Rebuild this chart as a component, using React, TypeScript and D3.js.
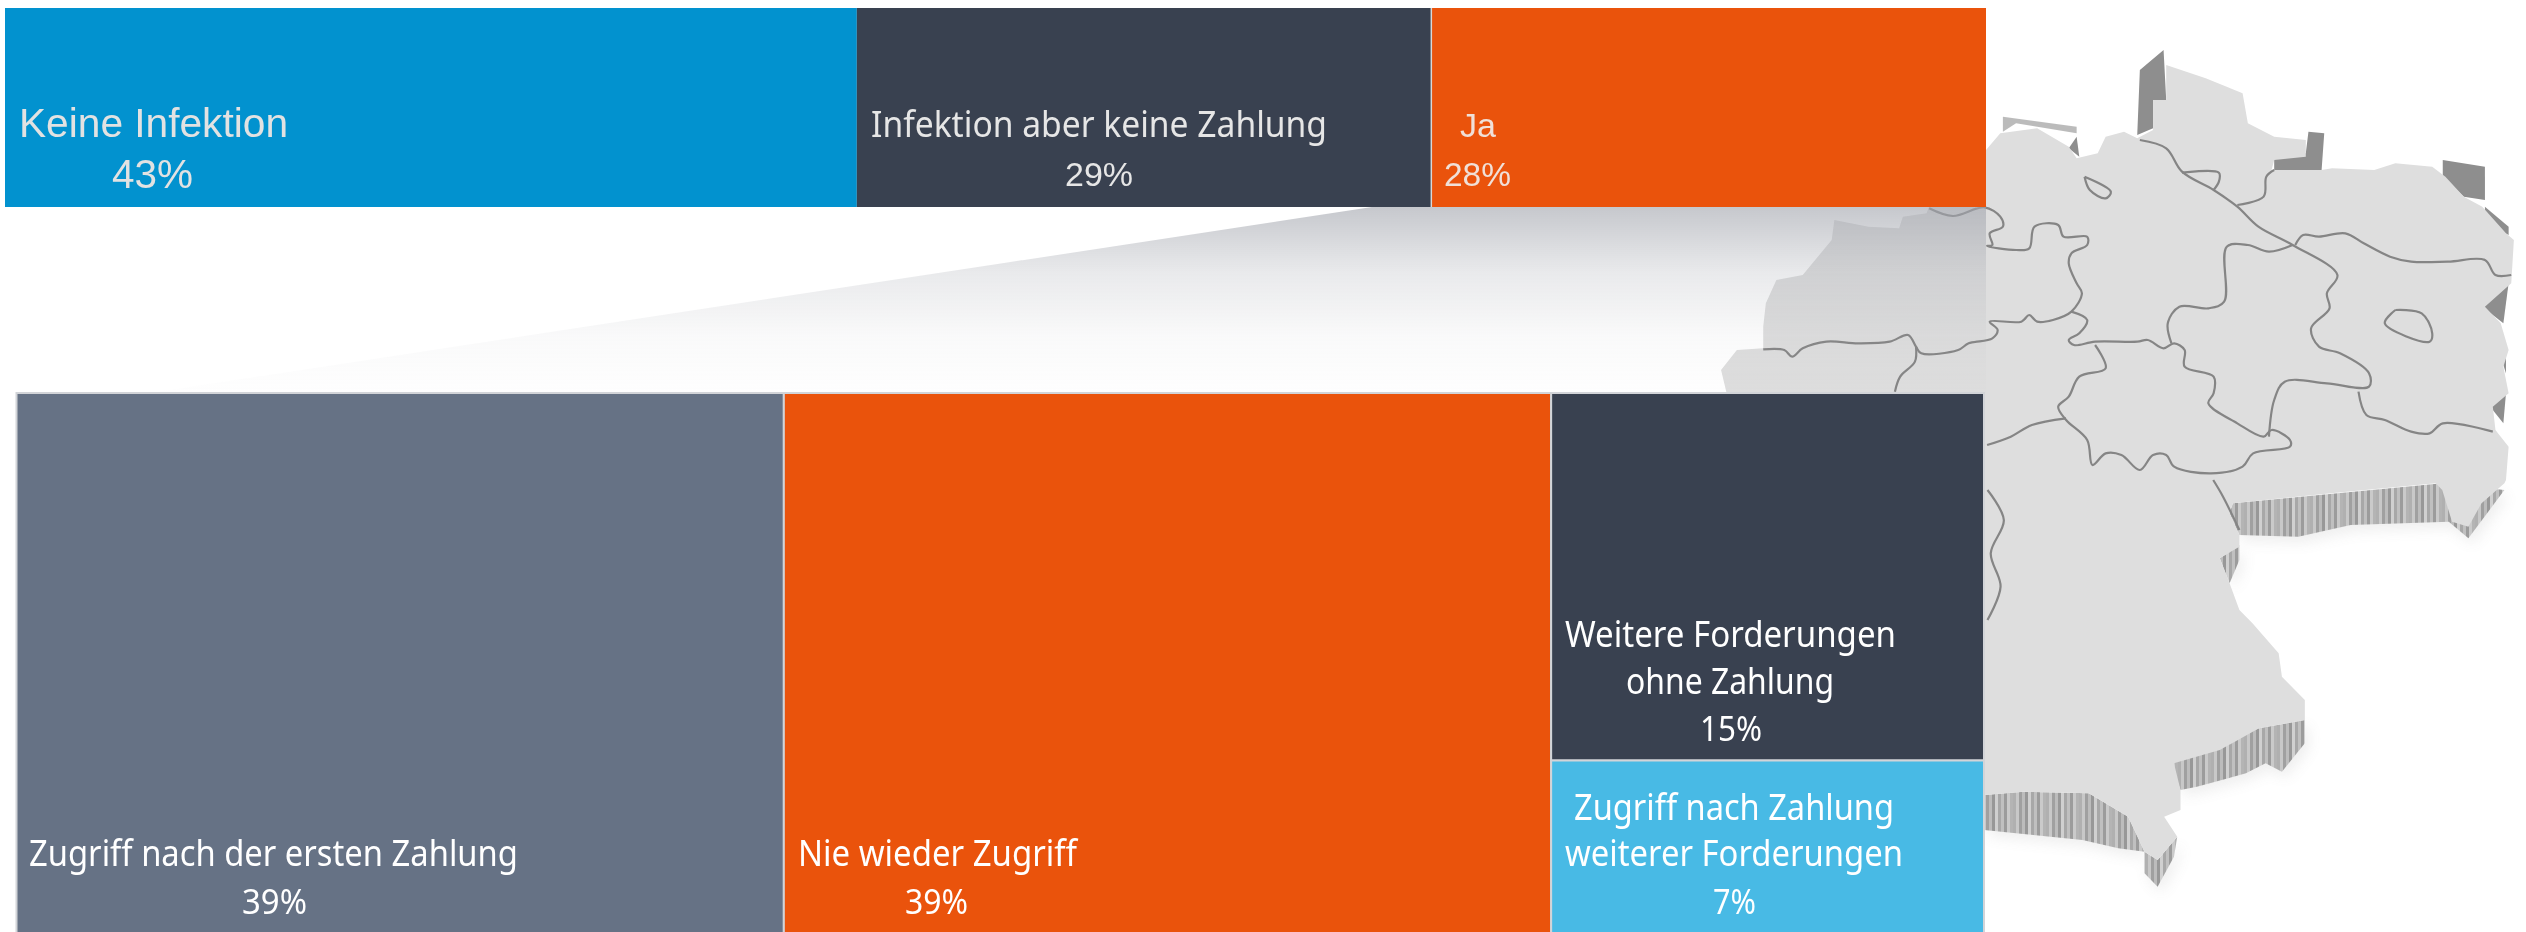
import React from "react";
import * as d3 from "d3";

type P = [number, number];

// ---- data ----
const topCategories = ["Keine Infektion", "Infektion aber keine Zahlung", "Ja"];
const topValues = [43, 29, 28];
const topColors = ["#0292cf", "#394150", "#ea530c"];
const bottomCategories = ["Zugriff nach der ersten Zahlung", "Nie wieder Zugriff"];
const bottomValues = [39, 39];
const bottomColors = ["#667285", "#ea530c"];
const stackCategories = [["Weitere Forderungen", "ohne Zahlung"], ["Zugriff nach Zahlung", "weiterer Forderungen"]];
const stackValues = [15, 7];
const stackColors = ["#394150", "#48bae5"];

// ---- text placement [x0, x1, baseline] ----
const topLabelBox: P[] = [[19, 288], [871, 1327], [1460, 1496]];
const topPctBox: P[] = [[112, 193], [1065, 1133], [1444, 1511]];
const bottomLabelBox: P[] = [[29, 518], [798, 1077]];
const bottomPctBox: P[] = [[242, 307], [905, 968]];
const stackLines = [
  [[1565, 1896, 647], [1626, 1834, 694]],
  [[1574, 1894, 820], [1565, 1903, 866]],
];
const stackPct = [[1700, 1762, 741], [1713, 1756, 914]];

// ---- map drawing, in the space of two crops ----
const outlineA: P[] = [[40,1110],[70,1050],[120,1045],[120,980],[125,910],[145,840],[195,825],[250,720],[255,660],[320,680],[378,685],[385,650],[430,640],[440,600],[543,450],[570,400],[640,385],[700,440],[715,475],[755,460],[770,410],[805,395],[830,415],[860,390],[860,300],[885,300],[885,195],[960,235],[1030,280],[1040,370],[1090,410],[1150,420],[1150,470],[1090,480],[1085,510],[1180,510],[1200,505],[1280,510],[1320,490],[1390,500],[1415,530],[1450,590],[1485,620],[1530,700],[1545,720],[1540,850],[1490,920],[1520,970],[1535,1050],[1525,1100],[1535,1180],[1505,1220],[1510,1290],[1535,1340],[1530,1440]];
const outlineB: P[] = [[1535,10],[1500,70],[1480,140],[1455,125],[1440,30],[1430,10],[1270,40],[1120,70],[1115,100],[1130,165],[1130,200],[1100,235],[1115,310],[1130,390],[1150,430],[1190,520],[1195,590],[1230,660],[1230,720],[1160,745],[1100,810],[1030,850],[1040,930],[1040,990],[1015,1010],[1035,1070],[1005,1140],[985,1115],[960,1010],[900,940],[800,935],[740,945],[500,945],[500,1000]];
const wallsA: P[][] = [
  [[830,405],[835,210],[880,150],[885,300],[860,300],[860,385]],
  [[1090,475],[1150,460],[1155,395],[1185,400],[1180,510],[1170,540],[1090,510]],
  [[1410,480],[1490,500],[1490,600],[1450,590],[1410,530]],
  [[1490,620],[1535,680],[1535,705],[1490,670]],
  [[1485,920],[1535,850],[1525,970]],
  [[1520,1070],[1530,1050],[1530,1120]],
  [[1500,1220],[1530,1180],[1525,1270]],
  [[575,350],[715,380],[715,400],[600,370],[575,395]],
  [[700,445],[720,470],[715,410]],
];
const wallsB: P[][] = [
  [[1115,100],[1130,165],[1220,170],[1300,135],[1450,125],[1480,175],[1535,30],[1440,10],[1120,70]],
  [[1100,235],[1130,195],[1130,240],[1115,310]],
  [[1230,720],[1230,790],[1195,875],[1170,850],[1140,880],[1065,920],[1040,930],[1025,850],[1160,745]],
  [[740,945],[800,935],[900,940],[960,1010],[985,1115],[1005,1140],[1035,1070],[1030,1130],[1005,1220],[985,1180],[985,1115],[945,1105],[890,1080],[740,1050]],
];
const bordersA: P[][] = [
  [[435,625],[480,648],[540,622],[570,650],[575,680],[550,700],[555,735],[545,738],[600,750],[625,745],[635,680],[680,675],[690,710],[735,710],[735,735],[705,760],[700,790],[715,850],[725,880],[705,935],[670,960],[640,965],[625,945],[610,965],[550,965],[565,990],[555,1015],[510,1030],[490,1050],[420,1060],[410,1040],[395,1005],[360,1025],[300,1030],[240,1025],[195,1045],[175,1070],[160,1050],[120,1048]],
  [[705,935],[735,960],[720,1000],[700,1020],[710,1035],[750,1025],[830,1025],[850,1020],[880,1045],[900,1030],[920,1050],[920,1100],[975,1130],[975,1180],[965,1210],[1020,1270],[1070,1310],[1085,1290],[1120,1320],[1120,1340],[1050,1360],[1030,1400],[970,1420],[900,1400],[885,1365],[860,1365],[835,1410],[800,1365],[770,1360],[745,1395],[735,1320],[695,1260],[680,1220],[700,1190],[720,1130],[770,1105],[750,1035]],
  [[410,1040],[408,1085],[380,1130],[370,1175]],
  [[695,1255],[630,1275],[590,1310],[545,1335]],
  [[895,1030],[888,970],[910,920],[965,925],[995,905],[1000,740],[1040,735],[1080,755],[1125,735]],
  [[835,420],[885,445],[915,515],[975,570],[1020,620],[1060,680],[1125,735],[1210,825],[1190,880],[1195,925],[1160,985],[1175,1040],[1215,1060],[1270,1120],[1270,1160],[1190,1150],[1110,1145],[1090,1200],[1080,1310]],
  [[915,518],[985,518],[985,545],[975,570]],
  [[1020,615],[1070,590],[1075,530],[1090,510]],
  [[1130,735],[1145,705],[1175,710],[1225,700],[1260,730],[1310,770],[1350,785],[1420,785],[1490,780],[1510,825],[1540,825]],
  [[1320,930],[1370,940],[1390,1000],[1385,1025],[1300,970],[1320,930]],
  [[1250,1175],[1265,1245],[1300,1260],[1350,1295],[1385,1300],[1410,1270],[1505,1295]],
  [[730,530],[780,575],[770,595],[740,570],[730,530]],
];
const bordersB: P[][] = [
  [[745,30],[770,120],[750,220],[765,320],[745,420]],
  [[1090,0],[1105,50],[1130,150]],
];
const stripeGrays = ["#b0b0b0", "#c8c8c8", "#a0a0a0", "#bcbcbc", "#989898", "#d0d0d0", "#a8a8a8", "#c0c0c0", "#9c9c9c", "#cacaca", "#b4b4b4"];
const wedgeCorners: P[] = [[1372, 207], [1986, 207], [1986, 393], [150, 393]];

// ---- scales ----
const W = 2526, H = 932;
const topY: P = [8, 207];
const lowY: P = [393, 932];
const xTop = d3.scaleLinear().domain([0, d3.sum(topValues)]).range([5, 1986]);
const xLow = d3.scaleLinear().domain([0, d3.sum(bottomValues) + d3.sum(stackValues)]).range([16.5, 1984]);
const yStack = d3.scaleLinear().domain([0, d3.sum(stackValues)]).range(lowY);
const ax = d3.scaleLinear().domain([0, 1568]).range([1700, 2526]);
const ay = d3.scaleLinear().domain([0, 1440]).range([0, 480]);
const bx = d3.scaleLinear().domain([0, 1568]).range([1500, 2526]);
const by = d3.scaleLinear().domain([0, 1356]).range([480, 932]);
const A = (p: P): P => [ax(p[0]), ay(p[1])];
const B = (p: P): P => [bx(p[0]), by(p[1])];
const line = d3.line();
const smooth = d3.line().curve(d3.curveCatmullRom.alpha(0.5));
const cumulate = (v: number[]) => v.map((_, i) => d3.sum(v.slice(0, i)));

const ROUND = "'Noto Sans', sans-serif";
const ARIAL = "'Liberation Sans', Arial, sans-serif";

function T({ box, y, text, size, font, fill }: { box: number[]; y: number; text: string; size: number; font: string; fill: string }) {
  return (
    <text x={box[0]} y={y} fontFamily={font} fontSize={size} fill={fill} textLength={box[1] - box[0]} lengthAdjust="spacingAndGlyphs">
      {text}
    </text>
  );
}

export default function App() {
  const silhouette = line([...outlineA.map(A), ...outlineB.map(B)]) + "Z";
  const coastWalls = wallsA.map((w) => w.map(A));
  const sideWalls = wallsB.map((w) => w.map(B));
  const borders = [...bordersA.map((b) => b.map(A)), ...bordersB.map((b) => b.map(B))];
  const topStarts = cumulate(topValues);
  const lowStarts = cumulate(bottomValues);
  const stackStarts = cumulate(stackValues);
  const stackX = xLow(d3.sum(bottomValues));
  return (
    <svg width={W} height={H} viewBox={`0 0 ${W} ${H}`} style={{ position: "absolute", left: 0, top: 0, display: "block", background: "#fff" }}>
      <defs>
        <pattern id="stripes" patternUnits="userSpaceOnUse" width={stripeGrays.length * 3} height={40}>
          {stripeGrays.map((c, i) => <rect key={i} x={i * 3} y={0} width={3} height={40} fill={c} />)}
        </pattern>
        <linearGradient id="wedge" x1="0" y1="0" x2="0" y2="1">
          <stop offset="0" stopColor="#a3a6ae" stopOpacity={0.62} />
          <stop offset="0.35" stopColor="#a3a6ae" stopOpacity={0.24} />
          <stop offset="0.7" stopColor="#a3a6ae" stopOpacity={0.06} />
          <stop offset="1" stopColor="#a3a6ae" stopOpacity={0.01} />
        </linearGradient>
        <filter id="soft" x="-5%" y="-5%" width="110%" height="110%">
          <feGaussianBlur stdDeviation="7" />
        </filter>
        <filter id="tiny"><feGaussianBlur stdDeviation="0.6" /></filter>
      </defs>

      <g filter="url(#soft)" opacity={0.12}>
        {sideWalls.map((w, i) => <path key={i} d={line(w) + "Z"} fill="#777" transform="translate(4,6)" />)}
      </g>
      <g filter="url(#tiny)">
        {coastWalls.map((w, i) => <path key={i} d={line(w) + "Z"} fill="#8e8e8e" opacity={i === 7 ? 0.6 : 1} />)}
        {sideWalls.map((w, i) => <path key={i} d={line(w) + "Z"} fill="url(#stripes)" />)}
        <path d={silhouette} fill="#dedede" />
        {borders.map((b, i) => (
          <path key={i} d={smooth(b) as string} fill="none" stroke="#858585" strokeWidth={2.2} strokeLinejoin="round" />
        ))}
      </g>

      <path d={line(wedgeCorners) + "Z"} fill="url(#wedge)" />

      {topCategories.map((c, i) => (
        <rect key={c} x={xTop(topStarts[i])} y={topY[0]} width={xTop(topValues[i]) - xTop(0)} height={topY[1] - topY[0]} fill={topColors[i]} />
      ))}
      <line x1={xTop(topStarts[2])} x2={xTop(topStarts[2])} y1={topY[0]} y2={topY[1]} stroke="#d8d8d8" strokeWidth={1.5} />

      {bottomCategories.map((c, i) => (
        <rect key={c} x={xLow(lowStarts[i])} y={lowY[0]} width={xLow(bottomValues[i]) - xLow(0)} height={lowY[1] - lowY[0] + 4} fill={bottomColors[i]} stroke="#d2d4d8" strokeWidth={2} />
      ))}
      {stackCategories.map((c, i) => (
        <rect key={c[0]} x={stackX} y={yStack(stackStarts[i])} width={xLow(d3.sum(stackValues)) - xLow(0)} height={yStack(stackValues[i]) - lowY[0] + (i === 1 ? 4 : 0)} fill={stackColors[i]} stroke="#d2d4d8" strokeWidth={2} />
      ))}

      <T box={topLabelBox[0]} y={137} text={topCategories[0]} size={40} font={ARIAL} fill="#e2e2e2" />
      <T box={topPctBox[0]} y={188} text={`${topValues[0]}%`} size={40} font={ARIAL} fill="#e2e2e2" />
      <T box={topLabelBox[1]} y={137} text={topCategories[1]} size={36} font={ROUND} fill="#e6e6e6" />
      <T box={topPctBox[1]} y={186} text={`${topValues[1]}%`} size={33} font={ARIAL} fill="#e6e6e6" />
      <T box={topLabelBox[2]} y={137} text={topCategories[2]} size={34} font={ARIAL} fill="#f0e0d8" />
      <T box={topPctBox[2]} y={186} text={`${topValues[2]}%`} size={33} font={ARIAL} fill="#f0e0d8" />

      {bottomCategories.map((c, i) => (
        <g key={c}>
          <T box={bottomLabelBox[i]} y={866} text={c} size={36} font={ROUND} fill="#fff" />
          <T box={bottomPctBox[i]} y={914} text={`${bottomValues[i]}%`} size={34} font={ROUND} fill="#fff" />
        </g>
      ))}
      {stackCategories.map((lines, i) => (
        <g key={lines[0]}>
          {lines.map((l, j) => (
            <T key={l} box={stackLines[i][j]} y={stackLines[i][j][2]} text={l} size={36} font={ROUND} fill="#fff" />
          ))}
          <T box={stackPct[i]} y={stackPct[i][2]} text={`${stackValues[i]}%`} size={34} font={ROUND} fill="#fff" />
        </g>
      ))}
    </svg>
  );
}
